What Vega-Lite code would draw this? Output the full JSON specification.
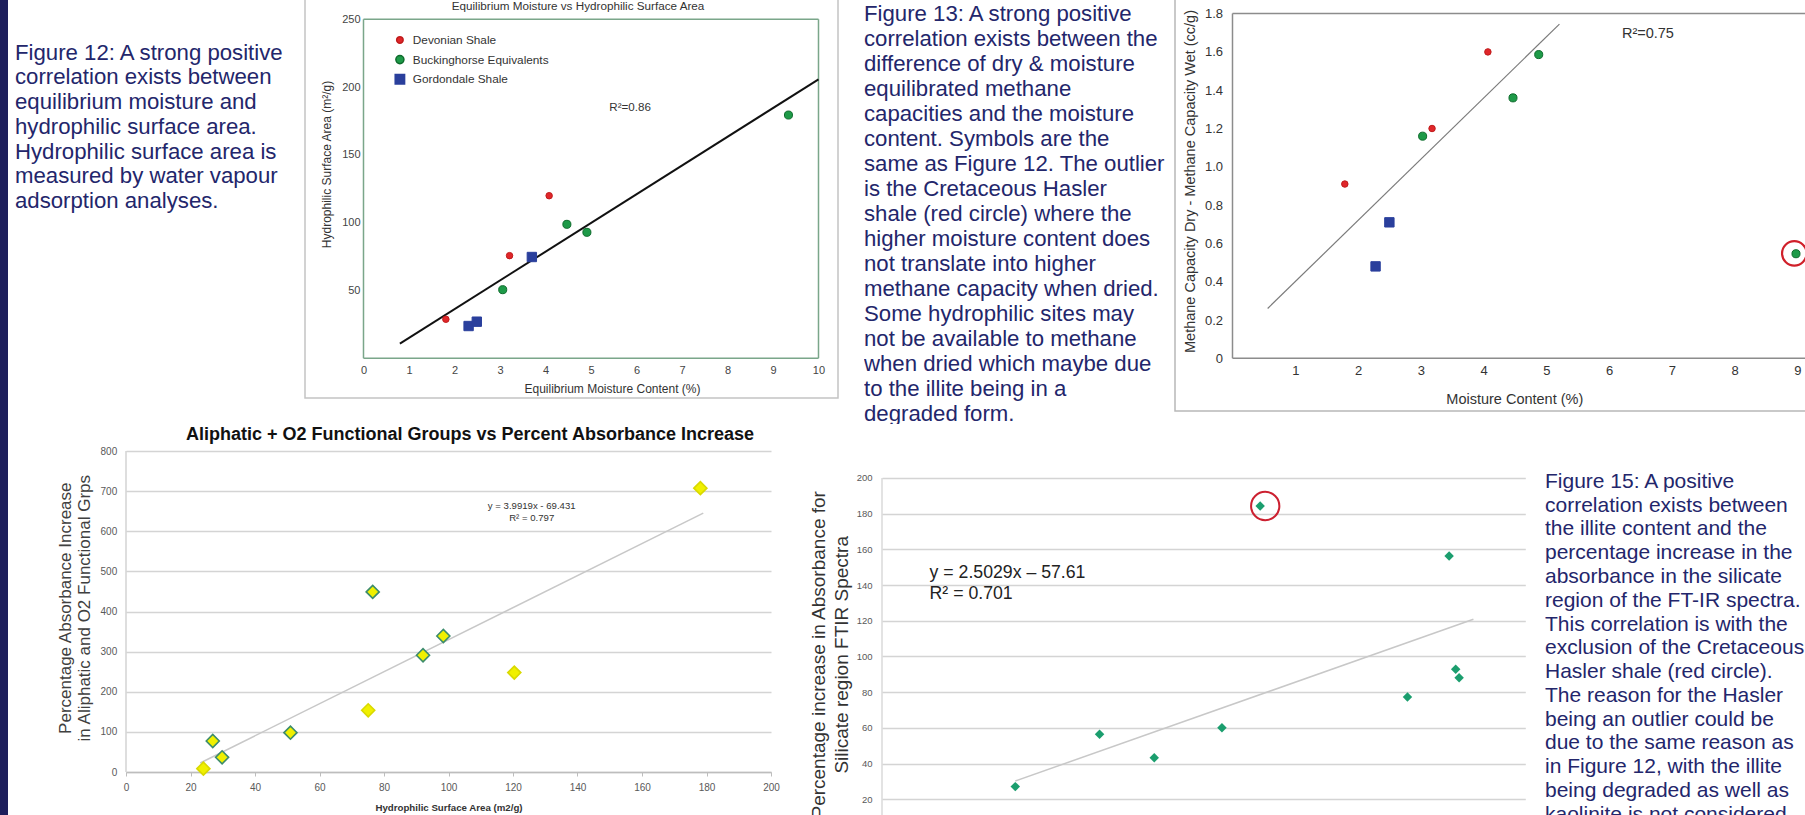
{
  "$schema": "https://vega.github.io/schema/vega-lite/v6.json",
  "padding": {"left": 0, "top": -3, "right": 0, "bottom": 0},
  "background": "white",
  "config": {
    "view": {"stroke": null},
    "font": "Liberation Sans",
    "axis": {"labelFont": "Liberation Sans", "titleFont": "Liberation Sans", "labelOverlap": false, "labelFlush": false},
    "title": {"font": "Liberation Sans", "frame": "group"}
  },
  "spacing": 0,
  "resolve": {"scale": {"color": "independent", "stroke": "independent", "shape": "independent", "size": "independent"}},
  "vconcat": [
    {
      "spacing": 0,
      "bounds": "flush",
      "hconcat": [
        {
          "width": 8, "height": 426,
          "view": {"fill": "#1e1f5c", "stroke": null},
          "data": {"values": []},
          "mark": "point",
          "encoding": {}
        },
        {
          "width": 7, "height": 1,
          "data": {"values": []},
          "mark": "point",
          "encoding": {}
        },
        {
          "width": 290, "height": 426,
          "data": {"values": [
            {"line": 0, "text": "Figure 12: A strong positive"},
            {"line": 1, "text": "correlation exists between"},
            {"line": 2, "text": "equilibrium moisture and"},
            {"line": 3, "text": "hydrophilic surface area."},
            {"line": 4, "text": "Hydrophilic surface area is"},
            {"line": 5, "text": "measured by water vapour"},
            {"line": 6, "text": "adsorption analyses."}
          ]},
          "mark": {"type": "text", "align": "left", "baseline": "middle", "fontSize": 22.2, "color": "#23266b"},
          "encoding": {
            "x": {"datum": 0, "type": "quantitative", "scale": {"domain": [0, 1]}, "axis": null},
            "y": {"field": "line", "type": "quantitative", "scale": {"domain": [-2.21, 15.002], "reverse": true, "nice": false, "zero": false}, "axis": null},
            "text": {"field": "text"}
          }
        },
        {
          "width": 533, "height": 400,
          "view": {"stroke": "#c4c4c4", "strokeWidth": 1.5},
          "title": {"text": "Equilibrium Moisture vs Hydrophilic Surface Area", "fontSize": 11.7, "fontWeight": "normal", "color": "#333333", "offset": -15, "dx": 6.5},
          "encoding": {
            "x": {"field": "x", "type": "quantitative",
              "scale": {"domain": [-1.2857, 10.4286], "nice": false, "zero": false},
              "axis": {"title": "Equilibrium Moisture Content (%)", "values": [0,1,2,3,4,5,6,7,8,9,10], "offset": -39.7, "domain": false, "ticks": false, "grid": false, "labelPadding": 6.5, "labelFontSize": 11, "labelColor": "#444444", "titleFontSize": 12, "titleFontWeight": "normal", "titleColor": "#333333", "titleX": 307, "titleY": 30, "titleBaseline": "middle"}},
            "y": {"field": "y", "type": "quantitative",
              "scale": {"domain": [-29.28, 265.71], "nice": false, "zero": false},
              "axis": {"title": "Hydrophilic Surface Area (m²/g)", "values": [50,100,150,200,250], "offset": -58.5, "domain": false, "ticks": false, "grid": false, "labelPadding": 3.5, "labelFontSize": 11, "labelColor": "#444444", "titleFontSize": 12, "titleFontWeight": "normal", "titleColor": "#333333", "titleX": -37.5, "titleY": 166, "titleBaseline": "middle"}}
          },
          "layer": [
            {
              "data": {"values": [
                {"x": 0, "y": 0, "x2": 0, "y2": 250},
                {"x": 10, "y": 0, "x2": 10, "y2": 250},
                {"x": 0, "y": 0, "x2": 10, "y2": 0},
                {"x": 0, "y": 250, "x2": 10, "y2": 250}
              ]},
              "mark": {"type": "rule", "color": "#7aa68a", "strokeWidth": 1.5},
              "encoding": {"x2": {"field": "x2"}, "y2": {"field": "y2"}}
            },
            {
              "data": {"values": [{"x": 0.8, "y": 10.8}, {"x": 10, "y": 205.7}]},
              "mark": {"type": "line", "color": "#111111", "strokeWidth": 2},
              "encoding": {}
            },
            {
              "data": {"values": [
                {"x": 1.81, "y": 28.8, "group": "Devonian Shale"},
                {"x": 3.21, "y": 75.7, "group": "Devonian Shale"},
                {"x": 4.08, "y": 119.9, "group": "Devonian Shale"},
                {"x": 3.06, "y": 50.6, "group": "Buckinghorse Equivalents"},
                {"x": 4.47, "y": 98.8, "group": "Buckinghorse Equivalents"},
                {"x": 4.91, "y": 92.9, "group": "Buckinghorse Equivalents"},
                {"x": 9.34, "y": 179.4, "group": "Buckinghorse Equivalents"},
                {"x": 2.31, "y": 23.8, "group": "Gordondale Shale"},
                {"x": 2.49, "y": 27.0, "group": "Gordondale Shale"},
                {"x": 3.70, "y": 74.7, "group": "Gordondale Shale"}
              ]},
              "mark": {"type": "point", "filled": true, "opacity": 1, "strokeWidth": 1},
              "encoding": {
                "color": {"field": "group", "type": "nominal",
                  "scale": {"domain": ["Devonian Shale", "Buckinghorse Equivalents", "Gordondale Shale"], "range": ["#e0262a", "#1e9a48", "#2a3f9c"]},
                  "legend": {"title": null, "orient": "none", "legendX": 394, "legendY": 36, "labelFontSize": 11.8, "labelColor": "#333333", "rowPadding": 4.7, "padding": 0, "labelOffset": 7}},
                "stroke": {"field": "group", "type": "nominal",
                  "scale": {"domain": ["Devonian Shale", "Buckinghorse Equivalents", "Gordondale Shale"], "range": ["#c01c1c", "#0e6b2c", "#2a3f9c"]}},
                "shape": {"field": "group", "type": "nominal",
                  "scale": {"domain": ["Devonian Shale", "Buckinghorse Equivalents", "Gordondale Shale"], "range": ["circle", "circle", "square"]}},
                "size": {"field": "group", "type": "nominal",
                  "scale": {"domain": ["Devonian Shale", "Buckinghorse Equivalents", "Gordondale Shale"], "range": [42, 88, 34]}}
              }
            },
            {
              "data": {"values": [{"x": 5.86, "y": 184.4, "label": "R²=0.86"}]},
              "mark": {"type": "text", "fontSize": 11.6, "color": "#333333"},
              "encoding": {"text": {"field": "label"}}
            }
          ]
        },
        {
          "width": 25.3, "height": 1,
          "data": {"values": []},
          "mark": "point",
          "encoding": {}
        },
        {
          "width": 310.7, "height": 426,
          "data": {"values": [
            {"line": 0, "text": "Figure 13: A strong positive"},
            {"line": 1, "text": "correlation exists between the"},
            {"line": 2, "text": "difference of dry & moisture"},
            {"line": 3, "text": "equilibrated methane"},
            {"line": 4, "text": "capacities and the moisture"},
            {"line": 5, "text": "content. Symbols are the"},
            {"line": 6, "text": "same as Figure 12. The outlier"},
            {"line": 7, "text": "is the Cretaceous Hasler"},
            {"line": 8, "text": "shale (red circle) where the"},
            {"line": 9, "text": "higher moisture content does"},
            {"line": 10, "text": "not translate into higher"},
            {"line": 11, "text": "methane capacity when dried."},
            {"line": 12, "text": "Some hydrophilic sites may"},
            {"line": 13, "text": "not be available to methane"},
            {"line": 14, "text": "when dried which maybe due"},
            {"line": 15, "text": "to the illite being in a"},
            {"line": 16, "text": "degraded form."}
          ]},
          "mark": {"type": "text", "align": "left", "baseline": "middle", "fontSize": 22.2, "color": "#23266b", "clip": true},
          "encoding": {
            "x": {"datum": 0, "type": "quantitative", "scale": {"domain": [0, 1]}, "axis": null},
            "y": {"field": "line", "type": "quantitative", "scale": {"domain": [-0.628, 16.412], "reverse": true, "nice": false, "zero": false}, "axis": null},
            "text": {"field": "text"}
          }
        },
        {
          "width": 631, "height": 413,
          "view": {"stroke": "#b8b8b8", "strokeWidth": 1.5},
          "encoding": {
            "x": {"field": "x", "type": "quantitative",
              "scale": {"domain": [-0.9163, 9.1394], "nice": false, "zero": false},
              "axis": {"title": "Moisture Content (%)", "values": [1,2,3,4,5,6,7,8,9], "offset": -52.7, "domain": false, "ticks": false, "grid": false, "labelPadding": 6.2, "labelFontSize": 13, "labelColor": "#333333", "titleFontSize": 14.5, "titleFontWeight": "normal", "titleColor": "#333333", "titleX": 339.3, "titleY": 40.7, "titleBaseline": "middle"}},
            "y": {"field": "y", "type": "quantitative",
              "scale": {"domain": [-0.2752, 1.8815], "nice": false, "zero": false},
              "axis": {"title": "Methane Capacity Dry - Methane Capacity Wet (cc/g)", "values": [0,0.2,0.4,0.6,0.8,1.0,1.2,1.4,1.6,1.8], "labelExpr": "datum.value == 0 ? '0' : format(datum.value, '.1f')", "offset": -57.5, "domain": false, "ticks": false, "grid": false, "labelPadding": 10, "labelFontSize": 13, "labelColor": "#333333", "titleFontSize": 14.5, "titleFontWeight": "normal", "titleColor": "#333333", "titleX": -42, "titleY": 183, "titleBaseline": "middle"}}
          },
          "layer": [
            {
              "data": {"values": [
                {"x": 0, "y": 0, "x2": 0, "y2": 1.8},
                {"x": 0, "y": 0, "x2": 10, "y2": 0},
                {"x": 0, "y": 1.8, "x2": 10, "y2": 1.8}
              ]},
              "mark": {"type": "rule", "color": "#8c8c8c", "strokeWidth": 1.5, "clip": true},
              "encoding": {"x2": {"field": "x2"}, "y2": {"field": "y2"}}
            },
            {
              "data": {"values": [{"x": 0.56, "y": 0.26}, {"x": 5.21, "y": 1.745}]},
              "mark": {"type": "line", "color": "#7a7a7a", "strokeWidth": 1.2},
              "encoding": {}
            },
            {
              "data": {"values": [
                {"x": 4.07, "y": 1.60, "group": "Devonian Shale"},
                {"x": 3.18, "y": 1.20, "group": "Devonian Shale"},
                {"x": 1.79, "y": 0.91, "group": "Devonian Shale"},
                {"x": 4.88, "y": 1.586, "group": "Buckinghorse Equivalents"},
                {"x": 4.47, "y": 1.36, "group": "Buckinghorse Equivalents"},
                {"x": 3.03, "y": 1.16, "group": "Buckinghorse Equivalents"},
                {"x": 8.98, "y": 0.546, "group": "Buckinghorse Equivalents"},
                {"x": 2.50, "y": 0.71, "group": "Gordondale Shale"},
                {"x": 2.28, "y": 0.48, "group": "Gordondale Shale"}
              ]},
              "mark": {"type": "point", "filled": true, "opacity": 1, "strokeWidth": 1, "clip": true},
              "encoding": {
                "color": {"field": "group", "type": "nominal",
                  "scale": {"domain": ["Devonian Shale", "Buckinghorse Equivalents", "Gordondale Shale"], "range": ["#e0262a", "#1e9a48", "#2a3f9c"]},
                  "legend": null},
                "stroke": {"field": "group", "type": "nominal",
                  "scale": {"domain": ["Devonian Shale", "Buckinghorse Equivalents", "Gordondale Shale"], "range": ["#c01c1c", "#0e6b2c", "#2a3f9c"]}, "legend": null},
                "shape": {"field": "group", "type": "nominal",
                  "scale": {"domain": ["Devonian Shale", "Buckinghorse Equivalents", "Gordondale Shale"], "range": ["circle", "circle", "square"]}, "legend": null},
                "size": {"field": "group", "type": "nominal",
                  "scale": {"domain": ["Devonian Shale", "Buckinghorse Equivalents", "Gordondale Shale"], "range": [42, 88, 34]}, "legend": null}
              }
            },
            {
              "data": {"values": [{"x": 8.953, "y": 0.548, "note": "Cretaceous Hasler shale"}]},
              "mark": {"type": "point", "shape": "circle", "filled": false, "color": "#d0202a", "strokeWidth": 2.2, "size": 600, "opacity": 1, "clip": true},
              "encoding": {}
            },
            {
              "data": {"values": [{"x": 6.62, "y": 1.695, "label": "R²=0.75"}]},
              "mark": {"type": "text", "fontSize": 14.5, "color": "#333333"},
              "encoding": {"text": {"field": "label"}}
            }
          ]
        }
      ]
    },
    {
      "spacing": 0,
      "bounds": "flush",
      "hconcat": [
        {
          "width": 8, "height": 392,
          "view": {"fill": "#1e1f5c", "stroke": null},
          "data": {"values": []},
          "mark": "point",
          "encoding": {}
        },
        {
          "width": 118, "height": 1,
          "data": {"values": []},
          "mark": "point",
          "encoding": {}
        },
        {
          "width": 645, "height": 348,
          "title": {"text": "Aliphatic + O2 Functional Groups vs Percent Absorbance Increase", "fontSize": 18, "fontWeight": "bold", "color": "#111111", "offset": -20.1, "dx": 21.5},
          "encoding": {
            "x": {"field": "x", "type": "quantitative",
              "scale": {"domain": [0, 200], "nice": false, "zero": false},
              "axis": {"title": "Hydrophilic Surface Area (m2/g)", "values": [0,20,40,60,80,100,120,140,160,180,200], "grid": false, "domainColor": "#bdbdbd", "domainWidth": 1.3, "ticks": true, "tickSize": 4, "tickColor": "#bdbdbd", "labelPadding": 6.7, "labelFontSize": 10, "labelColor": "#595959", "titleFontSize": 9.7, "titleFontWeight": "bold", "titleColor": "#333333", "titleY": 35, "titleBaseline": "middle"}},
            "y": {"field": "y", "type": "quantitative",
              "scale": {"domain": [0, 867.33], "nice": false, "zero": false},
              "axis": {"title": ["Percentage Absorbance Increase", "in Aliphatic and O2 Functional Grps"], "values": [0,100,200,300,400,500,600,700,800], "grid": true, "gridColor": "#d4d4d4", "gridWidth": 1.3, "domain": false, "ticks": false, "labelPadding": 9.3, "labelFontSize": 10, "labelColor": "#595959", "titleFontSize": 17, "titleFontWeight": "normal", "titleColor": "#404040", "titleX": -61, "titleY": 183.7, "titleLineHeight": 19, "titleBaseline": "middle"}}
          },
          "layer": [
            {
              "data": {"values": [{"x": 0, "y": 0, "x2": 0, "y2": 800}]},
              "mark": {"type": "rule", "color": "#cccccc", "strokeWidth": 1.3},
              "encoding": {"x2": {"field": "x2"}, "y2": {"field": "y2"}}
            },
            {
              "data": {"values": [{"x": 23, "y": 22.4}, {"x": 179, "y": 645.1}]},
              "mark": {"type": "line", "color": "#c8c8c8", "strokeWidth": 1.5},
              "encoding": {}
            },
            {
              "data": {"values": [
                {"x": 24.0, "y": 8.3, "set": "B"},
                {"x": 26.9, "y": 77.3, "set": "A"},
                {"x": 29.8, "y": 36.6, "set": "A"},
                {"x": 51.0, "y": 98.0, "set": "A"},
                {"x": 75.1, "y": 153.8, "set": "B"},
                {"x": 76.5, "y": 448.9, "set": "A"},
                {"x": 92.1, "y": 291.0, "set": "A"},
                {"x": 98.4, "y": 339.0, "set": "A"},
                {"x": 120.4, "y": 247.7, "set": "B"},
                {"x": 178.1, "y": 707.5, "set": "B"}
              ]},
              "mark": {"type": "point", "shape": "diamond", "filled": true, "fill": "#f0f000", "size": 170, "strokeWidth": 1.6, "opacity": 1},
              "encoding": {
                "stroke": {"field": "set", "type": "nominal", "scale": {"domain": ["A", "B"], "range": ["#3c8c6c", "#d9d900"]}, "legend": null}
              }
            },
            {
              "data": {"values": [
                {"x": 125.8, "y": 663, "label": "y = 3.9919x - 69.431"},
                {"x": 125.8, "y": 634, "label": "R² = 0.797"}
              ]},
              "mark": {"type": "text", "fontSize": 9.6, "color": "#333333"},
              "encoding": {"text": {"field": "label"}}
            }
          ]
        },
        {
          "width": 110.7, "height": 1,
          "data": {"values": []},
          "mark": "point",
          "encoding": {}
        },
        {
          "width": 643.3, "height": 392,
          "encoding": {
            "x": {"field": "x", "type": "quantitative",
              "scale": {"domain": [24.57, 75.4], "nice": false, "zero": false},
              "axis": null},
            "y": {"field": "y", "type": "quantitative",
              "scale": {"domain": [10.64, 230.25], "nice": false, "zero": false},
              "axis": {"title": ["Percentage increase in Absorbance for", "Silicate region FTIR Spectra"], "values": [20,40,60,80,100,120,140,160,180,200], "grid": true, "gridColor": "#d4d4d4", "gridWidth": 1.3, "domain": false, "ticks": false, "labelPadding": 10, "labelFontSize": 9.5, "labelColor": "#595959", "titleFontSize": 19, "titleFontWeight": "normal", "titleColor": "#333333", "titleX": -63.4, "titleY": 230.3, "titleLineHeight": 23.4, "titleBaseline": "middle"}}
          },
          "layer": [
            {
              "data": {"values": [{"x": 24.57, "y": 10.64, "x2": 24.57, "y2": 200}]},
              "mark": {"type": "rule", "color": "#d4d4d4", "strokeWidth": 1.3},
              "encoding": {"x2": {"field": "x2"}, "y2": {"field": "y2"}}
            },
            {
              "data": {"values": [{"x": 35.1, "y": 30.24}, {"x": 71.3, "y": 120.85}]},
              "mark": {"type": "line", "color": "#c8c8c8", "strokeWidth": 1.5},
              "encoding": {}
            },
            {
              "data": {"values": [
                {"x": 35.1, "y": 27.1},
                {"x": 41.76, "y": 56.4},
                {"x": 46.08, "y": 43.3},
                {"x": 51.43, "y": 60.1},
                {"x": 54.45, "y": 184.3},
                {"x": 66.09, "y": 77.3},
                {"x": 69.38, "y": 156.3},
                {"x": 69.9, "y": 92.8},
                {"x": 70.17, "y": 88.1}
              ]},
              "mark": {"type": "point", "shape": "diamond", "filled": true, "color": "#1b9e6e", "size": 90, "opacity": 1},
              "encoding": {}
            },
            {
              "data": {"values": [{"x": 54.85, "y": 184.3, "note": "Cretaceous Hasler shale"}]},
              "mark": {"type": "point", "shape": "circle", "filled": false, "color": "#cc2030", "strokeWidth": 2, "size": 800, "opacity": 1},
              "encoding": {}
            },
            {
              "data": {"values": [
                {"x": 28.33, "y": 146.6, "label": "y = 2.5029x – 57.61"},
                {"x": 28.33, "y": 134.8, "label": "R² = 0.701"}
              ]},
              "mark": {"type": "text", "align": "left", "fontSize": 17.7, "color": "#222222"},
              "encoding": {"text": {"field": "label"}}
            }
          ]
        },
        {
          "width": 18.3, "height": 1,
          "data": {"values": []},
          "mark": "point",
          "encoding": {}
        },
        {
          "width": 261.7, "height": 392,
          "data": {"values": [
            {"line": 0, "text": "Figure 15: A positive"},
            {"line": 1, "text": "correlation exists between"},
            {"line": 2, "text": "the illite content and the"},
            {"line": 3, "text": "percentage increase in the"},
            {"line": 4, "text": "absorbance in the silicate"},
            {"line": 5, "text": "region of the FT-IR spectra."},
            {"line": 6, "text": "This correlation is with the"},
            {"line": 7, "text": "exclusion of the Cretaceous"},
            {"line": 8, "text": "Hasler shale (red circle)."},
            {"line": 9, "text": "The reason for the Hasler"},
            {"line": 10, "text": "being an outlier could be"},
            {"line": 11, "text": "due to the same reason as"},
            {"line": 12, "text": "in Figure 12, with the illite"},
            {"line": 13, "text": "being degraded as well as"},
            {"line": 14, "text": "kaolinite is not considered"}
          ]},
          "mark": {"type": "text", "align": "left", "baseline": "middle", "fontSize": 21, "color": "#23266b", "clip": true},
          "encoding": {
            "x": {"datum": 0, "type": "quantitative", "scale": {"domain": [0, 1]}, "axis": null},
            "y": {"field": "line", "type": "quantitative", "scale": {"domain": [-2.442, 14.063], "reverse": true, "nice": false, "zero": false}, "axis": null},
            "text": {"field": "text"}
          }
        }
      ]
    }
  ]
}
